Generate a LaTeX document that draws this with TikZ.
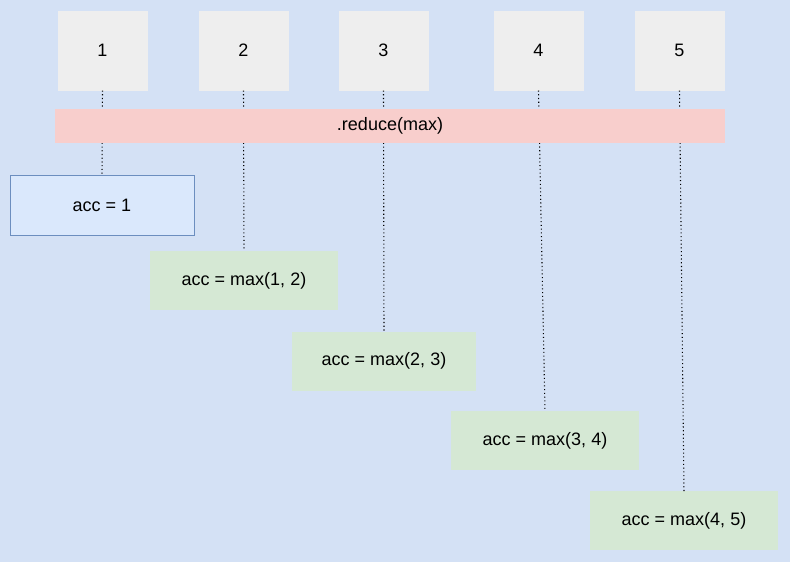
\documentclass[tikz,border=0pt]{standalone}
\usepackage{fontspec}
\setmainfont{Liberation Sans}
\definecolor{bg}{HTML}{D4E1F5}
\definecolor{topfill}{HTML}{EEEEEE}
\definecolor{redfill}{HTML}{F8CECC}
\definecolor{bluefill}{HTML}{DAE8FC}
\definecolor{bluedraw}{HTML}{6C8EBF}
\definecolor{greenfill}{HTML}{D5E8D4}
\begin{document}
\begin{tikzpicture}[x=0.75pt,y=-0.75pt,
  every node/.style={font=\fontsize{13.5}{16}\selectfont, inner sep=0pt, outer sep=0pt, text=black},
  topbox/.style={fill=topfill, minimum width=67.5pt, minimum height=60pt},
  accbox/.style={fill=greenfill, minimum height=44.25pt},
  link/.style={draw=black, dotted, line width=0.8pt}]
\fill[bg] (0,0) rectangle (790,562);
\useasboundingbox (0,0) rectangle (790,562);
% top boxes
\node[topbox] (t1) at (102.5,50.5) {1};
\node[topbox] (t2) at (243.5,50.5) {2};
\node[topbox] (t3) at (383.5,50.5) {3};
\node[topbox] (t4) at (538.5,50.5) {4};
\node[topbox] (t5) at (679.5,50.5) {5};
% result boxes
\node[fill=bluefill, draw=bluedraw, line width=0.6pt, minimum width=138pt, minimum height=45pt] (a1) at (102,205) {acc = 1};
\node[accbox, minimum width=141pt] (a2) at (244,280.5) {acc = max(1, 2)};
\node[accbox, minimum width=138pt] (a3) at (384,361) {acc = max(2, 3)};
\node[accbox, minimum width=141pt] (a4) at (545,440.5) {acc = max(3, 4)};
\node[accbox, minimum width=141pt] (a5) at (684,520.5) {acc = max(4, 5)};
% connectors
\draw[link] (t1.south) -- (a1.north);
\draw[link] (t2.south) -- (a2.north);
\draw[link] (t3.south) -- (a3.north);
\draw[link] (t4.south) -- (a4.north);
\draw[link] (t5.south) -- (a5.north);
% reduce bar
\node[fill=redfill, minimum width=502.5pt, minimum height=25.5pt] (red) at (390,126) {.reduce(max)};
\end{tikzpicture}
\end{document}
